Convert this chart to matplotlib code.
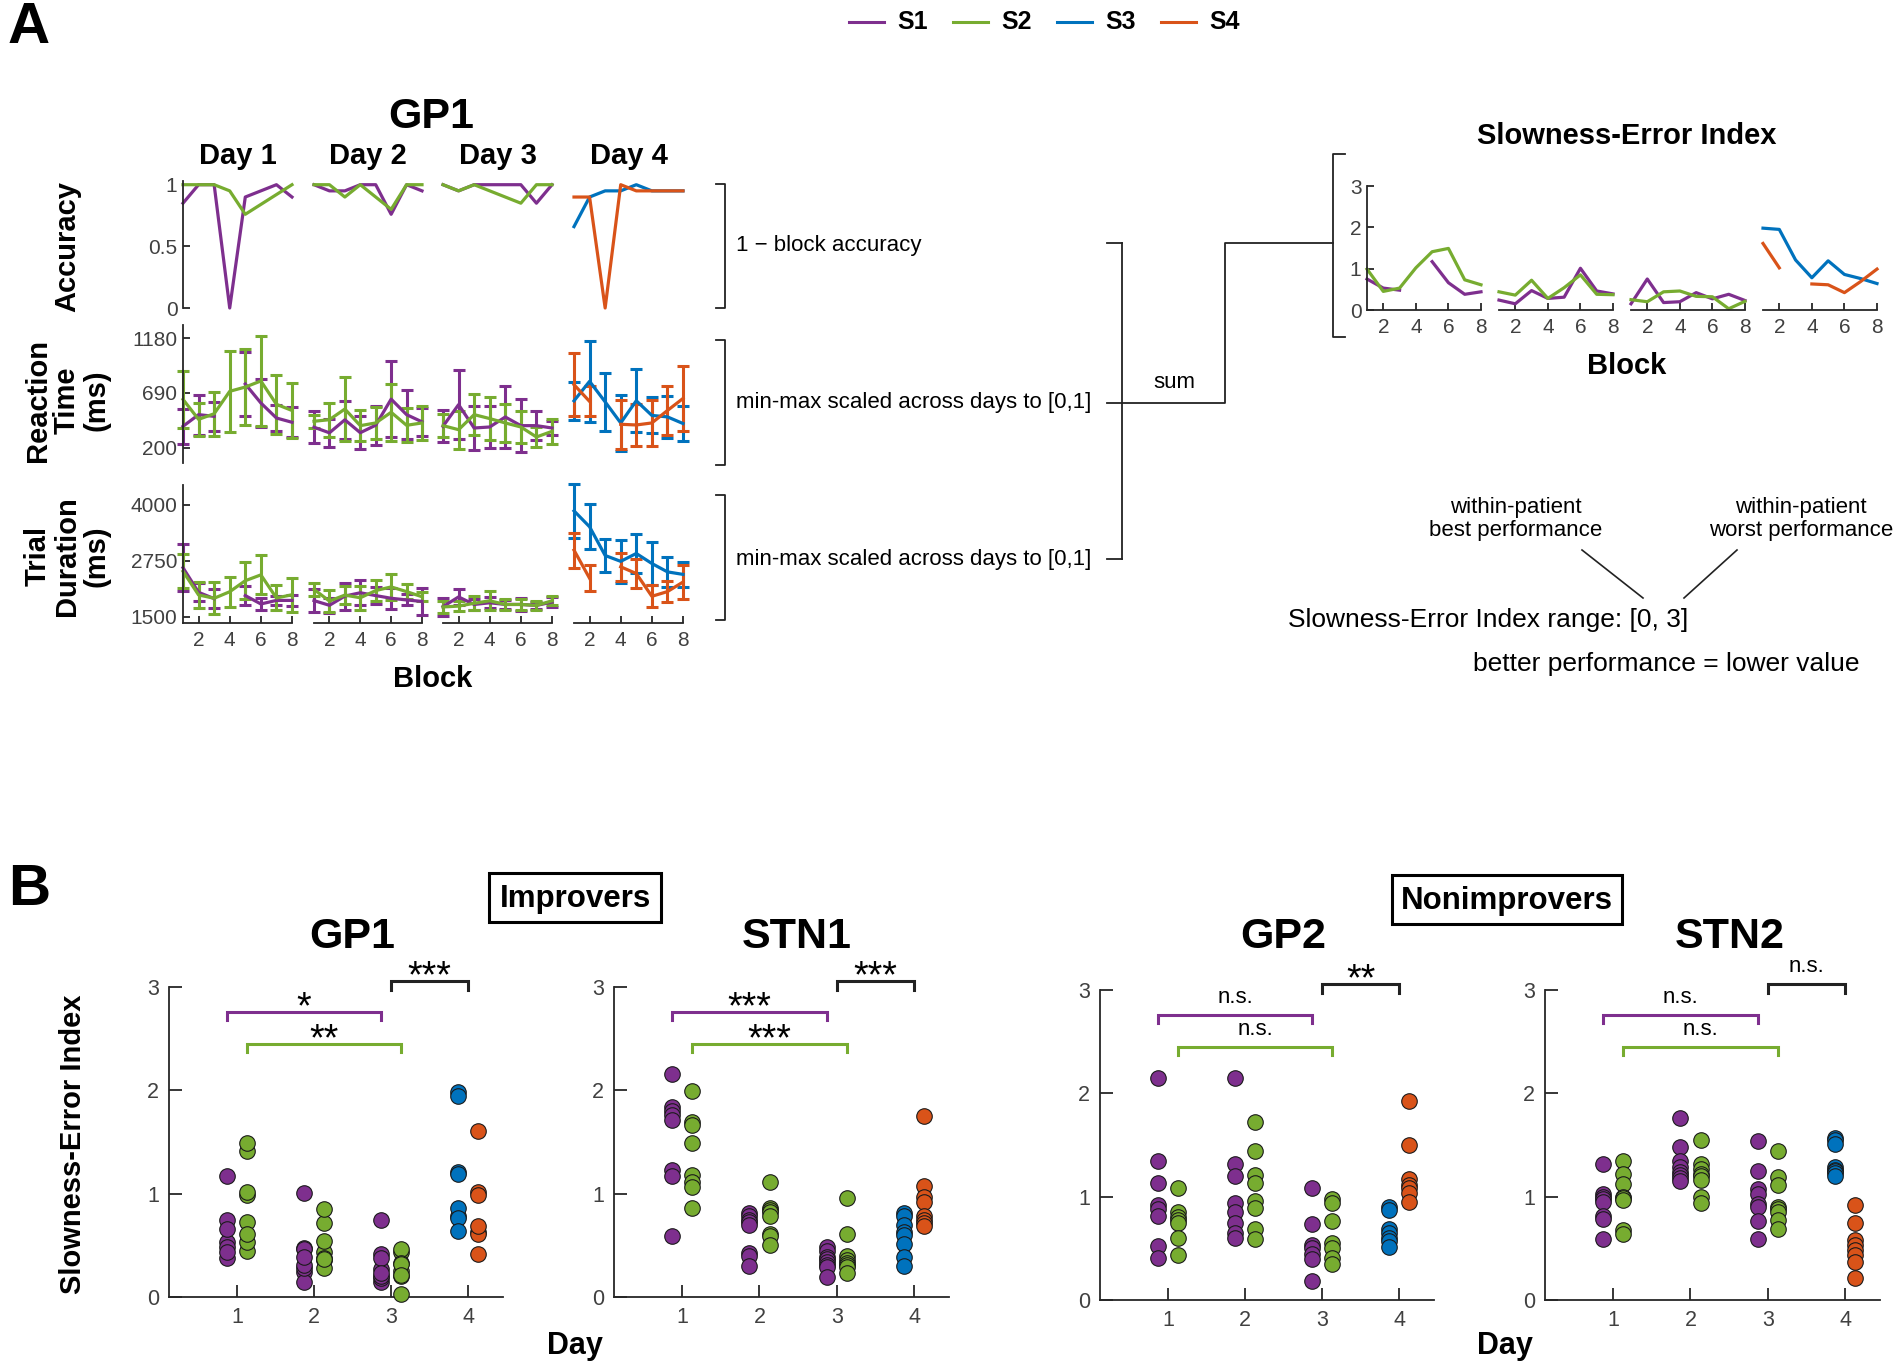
import numpy as np
import matplotlib.pyplot as plt
from matplotlib import font_manager
from matplotlib.lines import Line2D
from matplotlib.patches import Rectangle

plt.rcParams['font.family'] = ['Liberation Sans', 'DejaVu Sans']

C_S1 = '#7E2F8E'
C_S2 = '#77AC30'
C_S3 = '#0072BD'
C_S4 = '#D95319'
AX_COL = '#262626'
TICK_COL = '#404040'

nan = np.nan
blocks = np.arange(1, 9)

# panel A (GP1): S1/S2 on days 1-3, S3/S4 on day 4
acc_s1 = [[0.85, 1, 1, 0, 0.9, 0.95, 1, 0.9],
          [1, 0.95, 0.95, 1, 1, 0.76, 1, 0.95],
          [1, 0.95, 1, 1, 1, 1, 0.85, 1]]
acc_s2 = [[1, 1, 1, 0.95, 0.76, 0.84, 0.92, 1],
          [1, 1, 0.9, 1, 0.9, 0.8, 1, 1],
          [1, 0.95, 1, 0.95, 0.9, 0.85, 1, 1]]
acc_s3 = [0.66, 0.9, 0.95, 0.95, 1, 0.95, 0.95, 0.95]
acc_s4 = [0.9, 0.9, 0, 1, 0.95, 0.95, 0.95, 0.95]

rt_s1 = [[393, 497, 482, nan, 770, 601, 467, 429],
         [385, 335, 451, 336, 403, 635, 497, 433],
         [393, 586, 378, 387, 476, 399, 399, 378]]
rt_s1_err = [[154, 178, 128, nan, 285, 214, 120, 133],
             [141, 126, 171, 145, 173, 337, 217, 123],
             [144, 306, 198, 183, 272, 238, 130, 60]]
rt_s2 = [[633, 455, 505, 705, 743, 797, 589, 534],
         [438, 452, 547, 399, 423, 518, 402, 423],
         [399, 363, 497, 462, 423, 387, 298, 348]]
rt_s2_err = [[256, 145, 196, 362, 340, 404, 264, 245],
             [60, 151, 287, 141, 145, 252, 150, 155],
             [100, 170, 180, 193, 168, 141, 86, 114]]
rt_s3 = [620, 794, 611, 423, 621, 490, 477, 418]
rt_s3_err = [168, 361, 257, 250, 282, 160, 188, 159]
rt_s4 = [764, 615, nan, 411, 405, 423, 534, 641]
rt_s4_err = [282, 133, nan, 220, 190, 202, 215, 287]

td_s1 = [[2600, 2050, 1911, nan, 1978, 1791, 1870, 1870],
         [1866, 1761, 1967, 2041, 1978, 1918, 1881, 1847],
         [1731, 1948, 1780, 1817, 1780, 1780, 1758, 1832]]
td_s1_err = [[520, 200, 205, nan, 212, 140, 100, 120],
             [250, 168, 300, 283, 198, 235, 123, 306],
             [198, 183, 130, 120, 100, 140, 80, 120]]
td_s2 = [[2520, 1992, 1918, 2064, 2310, 2440, 1925, 1996],
         [2116, 1855, 1989, 1929, 2090, 2171, 2067, 1952],
         [1724, 1743, 1806, 1862, 1780, 1780, 1758, 1862]]
td_s2_err = [[380, 287, 362, 336, 418, 436, 280, 380],
             [150, 243, 200, 270, 235, 295, 160, 100],
             [130, 110, 160, 216, 130, 120, 100, 105]]
td_s3 = [3869, 3514, 2873, 2742, 2918, 2694, 2507, 2451]
td_s3_err = [600, 504, 362, 478, 444, 489, 332, 277]
td_s4 = [2992, 2365, nan, 2620, 2470, 1962, 2067, 2280]
td_s4_err = [392, 288, nan, 318, 317, 242, 235, 373]

sei_s1 = [[0.75, 0.53, 0.48, nan, 1.17, 0.66, 0.38, 0.44],
          [0.24, 0.15, 0.47, 0.28, 0.31, 1.01, 0.46, 0.39],
          [0.15, 0.75, 0.18, 0.20, 0.42, 0.27, 0.38, 0.23]]
sei_s2 = [[0.99, 0.45, 0.53, 1.02, 1.41, 1.49, 0.73, 0.61],
          [0.44, 0.36, 0.72, 0.28, 0.54, 0.85, 0.38, 0.37],
          [0.25, 0.20, 0.44, 0.46, 0.33, 0.32, 0.03, 0.21]]
sei_s3 = [1.98, 1.95, 1.21, 0.78, 1.19, 0.86, 0.76, 0.64]
sei_s4 = [1.61, 1.02, nan, 0.63, 0.61, 0.42, 0.69, 0.99]

# panel B, other patients (Slowness-Error Index per block)
stn1_s1 = [[2.16, 1.84, 1.80, 1.76, 1.71, 1.23, 1.17, 0.59],
           [0.81, 0.78, 0.75, 0.73, 0.70, 0.43, 0.40, 0.30],
           [0.48, 0.45, 0.39, 0.37, 0.34, 0.31, 0.29, 0.19]]
stn1_s2 = [[1.99, 1.69, 1.66, 1.49, 1.18, 1.11, 1.06, 0.86],
           [1.11, 0.86, 0.84, 0.82, 0.78, 0.61, 0.59, 0.50],
           [0.96, 0.61, 0.40, 0.36, 0.33, 0.31, 0.29, 0.23]]
stn1_s3 = [0.81, 0.78, 0.70, 0.63, 0.60, 0.51, 0.39, 0.30]
stn1_s4 = [1.75, 1.07, 0.97, 0.92, 0.78, 0.75, 0.72, 0.69]

gp2_s1 = [[2.15, 1.35, 1.13, 0.92, 0.88, 0.81, 0.52, 0.41],
          [2.15, 1.32, 1.20, 0.94, 0.85, 0.75, 0.65, 0.60],
          [1.08, 0.74, 0.53, 0.50, 0.45, 0.40, 0.18]]
gp2_s2 = [[1.08, 0.85, 0.80, 0.77, 0.75, 0.60, 0.44],
          [1.72, 1.44, 1.21, 1.13, 0.96, 0.89, 0.69, 0.59],
          [0.98, 0.94, 0.76, 0.55, 0.50, 0.41, 0.35]]
gp2_s3 = [0.90, 0.87, 0.69, 0.65, 0.60, 0.57, 0.51]
gp2_s4 = [1.93, 1.50, 1.17, 1.11, 1.08, 1.04, 0.95]

stn2_s1 = [[1.32, 1.03, 1.00, 0.98, 0.95, 0.81, 0.78, 0.59],
           [1.76, 1.48, 1.35, 1.29, 1.24, 1.21, 1.18, 1.15],
           [1.54, 1.25, 1.07, 1.03, 0.93, 0.90, 0.76, 0.59]]
stn2_s2 = [[1.35, 1.22, 1.12, 1.00, 0.99, 0.97, 0.68, 0.64],
           [1.55, 1.32, 1.27, 1.22, 1.20, 1.16, 1.00, 0.94],
           [1.44, 1.19, 1.11, 0.90, 0.88, 0.85, 0.77, 0.69]]
stn2_s3 = [1.57, 1.55, 1.51, 1.29, 1.26, 1.25, 1.23, 1.20]
stn2_s4 = [0.92, 0.75, 0.58, 0.53, 0.48, 0.44, 0.37, 0.21]

sig_gp1 = ['*', '**', '***']
sig_stn1 = ['***', '***', '***']
sig_gp2 = ['n.s.', 'n.s.', '**']
sig_stn2 = ['n.s.', 'n.s.', 'n.s.']

W, H = 1902, 1369
fig = plt.figure(figsize=(W / 100, H / 100), dpi=100)


def rect(x0, y0, x1, y1):
    return [x0 / W, 1 - y1 / H, (x1 - x0) / W, (y1 - y0) / H]


def ftext(x, y, s, **kw):
    kw.setdefault('ha', 'center')
    kw.setdefault('va', 'center')
    fig.text(x / W, 1 - y / H, s, **kw)


def fline(xs, ys, lw=1.3, color='#222222'):
    fig.add_artist(Line2D([x / W for x in xs], [1 - y / H for y in ys],
                          transform=fig.transFigure, lw=lw, color=color))


def setup(ax, xlim, ylim, left, bottom, tick_len=5, labelsize=15):
    ax.set_xlim(xlim)
    ax.set_ylim(ylim)
    ax.patch.set_alpha(0)
    ax.spines['top'].set_visible(False)
    ax.spines['right'].set_visible(False)
    ax.spines['left'].set_visible(left)
    ax.spines['bottom'].set_visible(bottom)
    for s in ['left', 'bottom']:
        ax.spines[s].set_color(AX_COL)
        ax.spines[s].set_linewidth(1.3)
    ax.tick_params(direction='in', length=tick_len, width=1.3, color=AX_COL,
                   labelcolor=TICK_COL, labelsize=labelsize, pad=4)
    if not left:
        ax.set_yticks([])
    if not bottom:
        ax.set_xticks([])


# ---------------- panel A
day_x = [(183, 292), (314, 422), (443, 552), (574, 683)]
rows = [
    ((acc_s1, acc_s2, acc_s3, acc_s4), None, (181, 308), (0, 1.03), [0, 0.5, 1], ['0', '0.5', '1']),
    ((rt_s1, rt_s2, rt_s3, rt_s4), (rt_s1_err, rt_s2_err, rt_s3_err, rt_s4_err),
     (325, 463), (66, 1296), [200, 690, 1180], ['200', '690', '1180']),
    ((td_s1, td_s2, td_s3, td_s4), (td_s1_err, td_s2_err, td_s3_err, td_s4_err),
     (485, 623), (1366, 4446), [1500, 2750, 4000], ['1500', '2750', '4000']),
]

for r, (means, errs, (y0, y1), ylim, yt, ytl) in enumerate(rows):
    for d, (x0, x1) in enumerate(day_x):
        ax = fig.add_axes(rect(x0, y0, x1, y1))
        if d < 3:
            series = [(means[0][d], errs[0][d] if errs else None, C_S1),
                      (means[1][d], errs[1][d] if errs else None, C_S2)]
        else:
            series = [(means[2], errs[2] if errs else None, C_S3),
                      (means[3], errs[3] if errs else None, C_S4)]
        for m, e, c in series:
            if e is None:
                ax.plot(blocks, m, color=c, lw=2.3, clip_on=False)
            else:
                eb = ax.errorbar(blocks, m, yerr=e, color=c, lw=2.3, elinewidth=2.2,
                                 capsize=4.5, capthick=2.2)
                for a in eb.get_children():
                    a.set_clip_on(False)
        setup(ax, (1, 8), ylim, left=(d == 0), bottom=(r == 2))
        if d == 0:
            ax.set_yticks(yt)
            ax.set_yticklabels(ytl)
        if r == 2:
            ax.set_xticks([2, 4, 6, 8])
            ax.tick_params(axis='x', pad=6)

ftext(431, 117, 'GP1', fontsize=31, fontweight='bold')
for d, (x0, x1) in enumerate(day_x):
    ftext((x0 + x1) / 2, 156, 'Day %d' % (d + 1), fontsize=21, fontweight='bold')
ftext(433, 679, 'Block', fontsize=21, fontweight='bold')
ftext(67, 246, 'Accuracy', fontsize=21, fontweight='bold', rotation=90)
ftext(67, 400, 'Reaction\nTime\n(ms)', fontsize=21, fontweight='bold', rotation=90, linespacing=1.05)
ftext(67, 556, 'Trial\nDuration\n(ms)', fontsize=21, fontweight='bold', rotation=90, linespacing=1.05)
ftext(29, 28, 'A', fontsize=42, fontweight='bold')

# legend
leg = [('S1', C_S1), ('S2', C_S2), ('S3', C_S3), ('S4', C_S4)]
for i, (lab, c) in enumerate(leg):
    lx = 849 + i * 104
    fline([lx, lx + 35], [22, 22], lw=2.2, color=c)
    ftext(lx + 48, 22, lab, fontsize=18, fontweight='bold', ha='left')

# brackets and connectors
for (top, bot) in [(184, 308), (340, 465), (495, 620)]:
    fline([716, 725, 725, 716], [top, top, bot, bot])
ftext(736, 246, '1 \u2212 block accuracy', fontsize=16, ha='left')
ftext(736, 403, 'min-max scaled across days to [0,1]', fontsize=16, ha='left')
ftext(736, 559, 'min-max scaled across days to [0,1]', fontsize=16, ha='left')
for yy in [243, 403, 559]:
    fline([1107, 1122], [yy, yy])
fline([1122, 1122], [243, 559])
fline([1122, 1225, 1225, 1333], [403, 403, 243, 243])
fline([1345, 1333, 1333, 1345], [154, 154, 337, 337])
ftext(1174, 383, 'sum', fontsize=16)

# Slowness-Error Index per block
sei_x = [(1367, 1481), (1499, 1613), (1631, 1745), (1763, 1877)]
for d, (x0, x1) in enumerate(sei_x):
    ax = fig.add_axes(rect(x0, 186, x1, 310))
    if d < 3:
        series = [(sei_s1[d], C_S1), (sei_s2[d], C_S2)]
    else:
        series = [(sei_s3, C_S3), (sei_s4, C_S4)]
    for m, c in series:
        ax.plot(blocks, m, color=c, lw=2.3, clip_on=False)
    setup(ax, (1, 8), (0, 3), left=(d == 0), bottom=True)
    ax.set_xticks([2, 4, 6, 8])
    ax.tick_params(axis='x', pad=6)
    if d == 0:
        ax.set_yticks([0, 1, 2, 3])
ftext(1627, 136, 'Slowness-Error Index', fontsize=21, fontweight='bold')
ftext(1627, 366, 'Block', fontsize=21, fontweight='bold')

ftext(1516, 519, 'within-patient\nbest performance', fontsize=16, linespacing=1.15)
ftext(1801, 519, 'within-patient\nworst performance', fontsize=16, linespacing=1.15)
fline([1582, 1643], [550, 598], lw=1.2)
fline([1737, 1684], [550, 598], lw=1.2)
ftext(1488, 620, 'Slowness-Error Index range: [0, 3]', fontsize=19)
ftext(1666, 664, 'better performance = lower value', fontsize=19)

# ---------------- panel B
ftext(29, 890, 'B', fontsize=42, fontweight='bold')

names = [f.name for f in font_manager.fontManager.ttflist]
if 'Liberation Sans Narrow' in names:
    box_font, box_size = ['Liberation Sans Narrow', 'Liberation Sans'], 27
else:
    box_font, box_size = ['Liberation Sans', 'DejaVu Sans'], 22.5
for (bx0, by0, bx1, by1), lab in [((489, 873, 661, 922), 'Improvers'),
                                  ((1392, 875, 1622, 924), 'Nonimprovers')]:
    fig.add_artist(Rectangle((bx0 / W, 1 - by1 / H), (bx1 - bx0) / W, (by1 - by0) / H,
                             transform=fig.transFigure, fill=False, lw=2.2, ec='black'))
    ftext((bx0 + bx1) / 2, (by0 + by1) / 2 + 1, lab, fontsize=box_size,
          fontweight='bold', family=box_font)

gp1_s1 = [[v for v in day if not np.isnan(v)] for day in sei_s1]
gp1_s2 = [[v for v in day if not np.isnan(v)] for day in sei_s2]
gp1_s3 = [v for v in sei_s3 if not np.isnan(v)]
gp1_s4 = [v for v in sei_s4 if not np.isnan(v)]

patients = [
    ('GP1', (gp1_s1, gp1_s2, gp1_s3, gp1_s4), sig_gp1, (169, 503, 987, 1297), 352),
    ('STN1', (stn1_s1, stn1_s2, stn1_s3, stn1_s4), sig_stn1, (614, 949, 987, 1297), 797),
    ('GP2', (gp2_s1, gp2_s2, gp2_s3, gp2_s4), sig_gp2, (1100, 1434, 990, 1300), 1283),
    ('STN2', (stn2_s1, stn2_s2, stn2_s3, stn2_s4), sig_stn2, (1545, 1880, 990, 1300), 1730),
]
off = 0.13
msize = 125
for name, (s1, s2, s3, s4), sig, (x0, x1, y0, y1), tx in patients:
    ax = fig.add_axes(rect(x0, y0, x1, y1))
    for d in range(3):
        ax.scatter([d + 1 - off] * len(s1[d]), s1[d], s=msize, color=C_S1,
                   edgecolor='#1a1a1a', lw=0.8, zorder=3, clip_on=False)
        ax.scatter([d + 1 + off] * len(s2[d]), s2[d], s=msize, color=C_S2,
                   edgecolor='#1a1a1a', lw=0.8, zorder=3, clip_on=False)
    ax.scatter([4 - off] * len(s3), s3, s=msize, color=C_S3, edgecolor='#1a1a1a',
               lw=0.8, zorder=3, clip_on=False)
    ax.scatter([4 + off] * len(s4), s4, s=msize, color=C_S4, edgecolor='#1a1a1a',
               lw=0.8, zorder=3, clip_on=False)

    # (x span), top, tip, colour, baseline for n.s., baseline for asterisks
    brackets = [((1 - off, 3 - off), 2.755, 2.68, C_S1, 2.87, 2.70),
                ((1 + off, 3 + off), 2.45, 2.37, C_S2, 2.56, 2.39),
                ((3, 4), 3.06, 2.97, '#222222', 3.17, 3.00)]
    for (bx0, bx1), ytop, ytip, c, yns, yast in brackets:
        ax.plot([bx0, bx0, bx1, bx1], [ytip, ytop, ytop, ytip], color=c, lw=2.2,
                clip_on=False, solid_joinstyle='miter')
    for ((bx0, bx1), ytop, ytip, c, yns, yast), s in zip(brackets, sig):
        if s.startswith('*'):
            ax.text((bx0 + bx1) / 2, yast, s, ha='center', va='baseline',
                    fontsize=27, clip_on=False)
        else:
            ax.text((bx0 + bx1) / 2, yns, s, ha='center', va='baseline',
                    fontsize=16, clip_on=False)

    setup(ax, (0.12, 4.45), (0, 3), left=True, bottom=True, tick_len=9, labelsize=15.5)
    ax.set_xticks([1, 2, 3, 4])
    ax.set_yticks([0, 1, 2, 3])
    ax.tick_params(pad=7)
    ftext(tx, 937, name, fontsize=31, fontweight='bold')

ftext(73, 1144, 'Slowness-Error Index', fontsize=21, fontweight='bold', rotation=90)
ftext(575, 1346, 'Day', fontsize=22, fontweight='bold')
ftext(1505, 1346, 'Day', fontsize=22, fontweight='bold')

fig.savefig('out.png', dpi=100, facecolor='white')
